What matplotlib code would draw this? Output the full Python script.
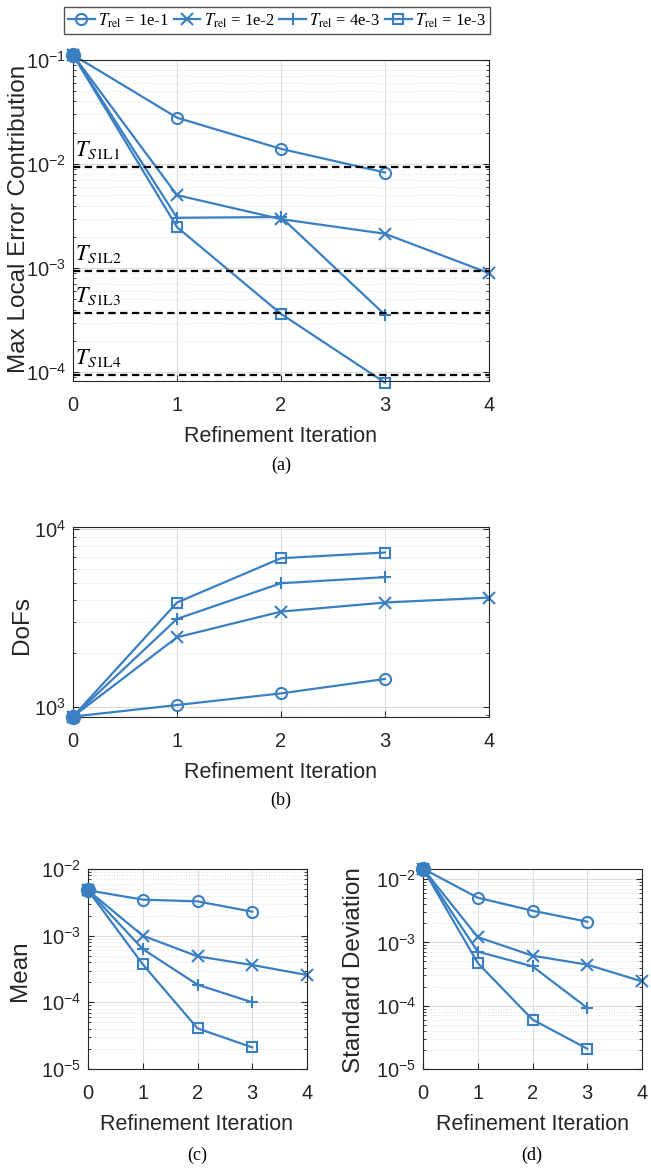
import numpy as np
import matplotlib
matplotlib.use("Agg")
import matplotlib.pyplot as plt
from matplotlib.ticker import LogLocator, NullFormatter

SANS = ['Liberation Sans', 'DejaVu Sans']
plt.rcParams['font.family'] = SANS
plt.rcParams['mathtext.fontset'] = 'stix'

# data
labels = ['1e-1', '1e-2', '4e-3', '1e-3']
markers = ['o', 'x', '+', 's']

# (a) max local error contribution
err_start = 0.112
err = [
    [0.0279, 0.0140, 0.0083],
    [0.00503, 0.00296, 0.00214, 0.000895],
    [0.00305, 0.0031, 0.000356],
    [0.00248, 0.000364, 0.0000794],
]
thresholds = [9.35e-3, 9.35e-4, 3.72e-4, 9.35e-5]
thr_names = ['L1', 'L2', 'L3', 'L4']

# (b) degrees of freedom
dofs_start = 880
dofs = [
    [1022, 1189, 1433],
    [2462, 3435, 3866, 4121],
    [3125, 4966, 5372],
    [3866, 6870, 7397],
]

# (c) mean
mean_start = 4.79e-3
mean = [
    [3.47e-3, 3.27e-3, 2.29e-3],
    [1.0e-3, 4.9e-4, 3.63e-4, 2.57e-4],
    [6.3e-4, 1.84e-4, 1.0e-4],
    [3.72e-4, 4.07e-5, 2.11e-5],
]

# (d) standard deviation
std_start = 1.46e-2
std = [
    [5.07e-3, 3.16e-3, 2.12e-3],
    [1.21e-3, 6.16e-4, 4.44e-4, 2.42e-4],
    [7.13e-4, 4.18e-4, 9.2e-5],
    [4.72e-4, 6.03e-5, 2.09e-5],
]

blue = '#3a7fc2'
txt = '#262626'
W, H = 651, 1171
fig = plt.figure(figsize=(W / 100, H / 100), dpi=100)


def box(l, t, r, b):
    return [l / W, 1 - b / H, (r - l) / W, (b - t) / H]


def ftext(x, y, s, **kw):
    return fig.text(x / W, 1 - y / H, s, ha='center', va='center', **kw)


def draw(ax, start, series, ylim, yticks):
    handles = []
    for vals, m, lab in zip(series, markers, labels):
        x = np.arange(len(vals) + 1)
        y = [start] + list(vals)
        h, = ax.plot(x, y, color=blue, lw=1.6, marker=m, ms=8 if m != 's' else 7,
                     mew=1.5, mfc='none', clip_on=False,
                     label=r'$T_{\mathrm{rel}}$ = ' + lab)
        handles.append(h)
    ax.plot([0], [start], 'o', color=blue, ms=10, clip_on=False, zorder=5)
    ax.set_yscale('log')
    ax.set_xlim(0, 4)
    ax.set_ylim(*ylim)
    ax.set_xticks([0, 1, 2, 3, 4])
    ax.set_yticks(yticks)
    ax.yaxis.set_minor_locator(LogLocator(base=10, subs=np.arange(2, 10)))
    ax.yaxis.set_minor_formatter(NullFormatter())
    ax.grid(True, which='major', color='#dcdcdc', lw=0.8)
    ax.grid(True, which='minor', axis='y', color='#e0e0e0', lw=0.7, ls=':')
    ax.tick_params(which='both', direction='in', right=True, top=False,
                   labelsize=14.5, colors=txt, length=4)
    ax.tick_params(axis='x', pad=11)
    ax.tick_params(axis='y', pad=5)
    ax.tick_params(which='minor', length=2)
    for s in ax.spines.values():
        s.set_color(txt)
        s.set_linewidth(0.8)
    ax.set_axisbelow(True)
    return handles


ax_a = fig.add_axes(box(73, 60, 489, 381))
handles = draw(ax_a, err_start, err, (8.24e-5, 0.1), [1e-4, 1e-3, 1e-2, 1e-1])
for t, name in zip(thresholds, thr_names):
    ax_a.axhline(t, color='k', ls=(0, (3.3, 2)), lw=1.6, zorder=4)
    ax_a.text(0.02, t * 1.28, r'$T_{S1\mathrm{%s}}$' % name,
              fontsize=16, va='baseline', ha='left')

ax_b = fig.add_axes(box(73, 527, 489, 717))
draw(ax_b, dofs_start, dofs, (875, 1.03e4), [1e3, 1e4])

ax_c = fig.add_axes(box(88, 869, 307, 1069))
draw(ax_c, mean_start, mean, (1e-5, 1e-2), [1e-5, 1e-4, 1e-3, 1e-2])

ax_d = fig.add_axes(box(423, 869, 642, 1069))
draw(ax_d, std_start, std, (1e-5, 1.44e-2), [1e-5, 1e-4, 1e-3, 1e-2])

# axis labels
xl = dict(fontsize=15.5, color=txt)
yl = dict(fontsize=17.5, color=txt, rotation=90)
ftext(281, 437, 'Refinement Iteration', **xl)
ftext(281, 772, 'Refinement Iteration', **xl)
ftext(197, 1125, 'Refinement Iteration', **xl)
ftext(533, 1125, 'Refinement Iteration', **xl)
ftext(19, 219, 'Max Local Error Contribution', **yl)
ftext(22, 625, 'DoFs', **yl)
ftext(20, 971, 'Mean', **yl)
ftext(354, 970, 'Standard Deviation', **yl)

fig.legend(handles=handles, loc='center', bbox_to_anchor=(277 / W, 1 - 20.5 / H),
           ncol=4, frameon=True, fancybox=False, edgecolor=txt,
           prop={'family': 'Liberation Serif', 'size': 12}, handlelength=1.6,
           handletextpad=0.2, columnspacing=0.3, borderpad=0.25, borderaxespad=0)

for lab, cx, cy in [('(a)', 281, 465), ('(b)', 281, 800), ('(c)', 197, 1155), ('(d)', 532, 1155)]:
    ftext(cx, cy, lab, fontsize=13, family='Liberation Serif')

fig.savefig('out.png', dpi=100)
